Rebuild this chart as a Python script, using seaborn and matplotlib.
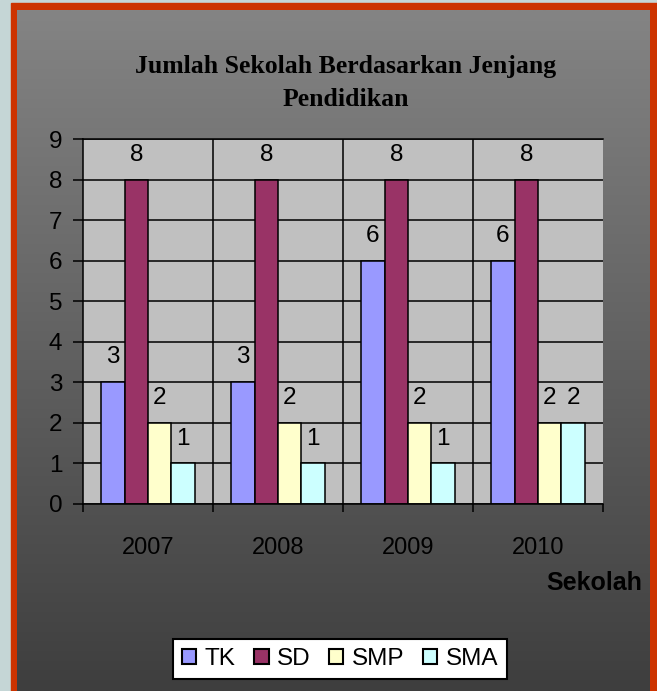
import numpy as np
import pandas as pd
import seaborn as sns
import matplotlib.pyplot as plt
from matplotlib.patches import Rectangle, Patch

# data
years = ["2007", "2008", "2009", "2010"]
levels = ["TK", "SD", "SMP", "SMA"]
tk = [3, 3, 6, 6]
sd = [8, 8, 8, 8]
smp = [2, 2, 2, 2]
sma = [1, 1, 1, 2]
colors = ["#9999ff", "#993366", "#ffffcc", "#ccffff"]

df = pd.DataFrame({
    "year": years * 4,
    "level": [lv for lv in levels for _ in years],
    "count": tk + sd + smp + sma,
})

sns.set_style("white")
plt.rcParams["font.family"] = ["Liberation Sans", "DejaVu Sans"]
plt.rcParams["text.color"] = "black"
plt.rcParams["xtick.color"] = "black"
plt.rcParams["ytick.color"] = "black"

W, H = 657, 691
fig = plt.figure(figsize=(W / 100, H / 100), dpi=100)

# background: light outside, red frame, grey gradient inside
bg = fig.add_axes([0, 0, 1, 1], zorder=-10)
bg.add_patch(Rectangle((0, 0), W, H, color="#c5d6d6", zorder=0))
bg.add_patch(Rectangle((11, 3), W - 11, H - 3, color="#cc3300", zorder=1))
grad = np.linspace(0x84, 0x3e, 256)[:, None] / 255.0
bg.imshow(np.repeat(grad[:, :, None], 3, axis=2), extent=(17, 650, H, 10),
          aspect="auto", interpolation="bilinear", zorder=2)
bg.set_xlim(0, W)
bg.set_ylim(H, 0)
bg.axis("off")

# plot area
ax = fig.add_axes([83 / W, (H - 504) / H, (603 - 83) / W, (504 - 139) / H])
ax.set_facecolor("#c0c0c0")
sns.barplot(data=df, x="year", y="count", hue="level", hue_order=levels,
            palette=colors, saturation=1, width=0.72, edgecolor="black",
            linewidth=1.1, legend=False, ax=ax)

ax.set_xlim(-0.5, 3.5)
ax.set_ylim(0, 9)
ax.set_yticks(range(10))
ax.set_axisbelow(True)
ax.yaxis.grid(True, color="black", linewidth=1.1)
for xb in [0.5, 1.5, 2.5]:
    ax.axvline(xb, color="black", linewidth=1.1, zorder=0.5)

for side in ["left", "bottom", "top"]:
    ax.spines[side].set_color("black")
    ax.spines[side].set_linewidth(1.1)
ax.spines["right"].set_visible(False)

ax.tick_params(axis="y", direction="out", length=7, width=1.1,
               labelsize=17.5, pad=8, left=True)
ax.set_xticks([-0.5, 0.5, 1.5, 2.5, 3.5], minor=True)
ax.tick_params(axis="x", which="minor", direction="out", length=6, width=1.1,
               bottom=True)
ax.tick_params(axis="x", which="major", length=0, labelsize=17, pad=24)
ax.set_xlabel("")
ax.set_ylabel("")

for cont in ax.containers:
    ax.bar_label(cont, fontsize=17.5, padding=10)

# texts
fig.text(346 / W, 1 - 66 / H, "Jumlah Sekolah Berdasarkan Jenjang",
         ha="center", va="center", fontsize=18.5, fontweight="bold",
         family="Liberation Serif")
fig.text(346 / W, 1 - 99 / H, "Pendidikan", ha="center", va="center",
         fontsize=18.5, fontweight="bold", family="Liberation Serif")
fig.text(642 / W, 1 - 583 / H, "Sekolah", ha="right", va="center",
         fontsize=18, fontweight="bold")

handles = [Patch(facecolor=c, edgecolor="black", linewidth=1.5, label=l)
           for c, l in zip(colors, levels)]
leg = fig.legend(handles=handles, loc="center", ncol=4,
                 bbox_to_anchor=(340 / W, 1 - 659 / H), fontsize=17.5,
                 frameon=True, fancybox=False, handlelength=0.6,
                 handleheight=0.6, handletextpad=0.35, columnspacing=0.75,
                 borderpad=0.35, borderaxespad=0)
leg.get_frame().set_edgecolor("black")
leg.get_frame().set_linewidth(1.5)
leg.get_frame().set_facecolor("white")
leg.get_frame().set_alpha(1)

fig.savefig("out.png", dpi=100)
